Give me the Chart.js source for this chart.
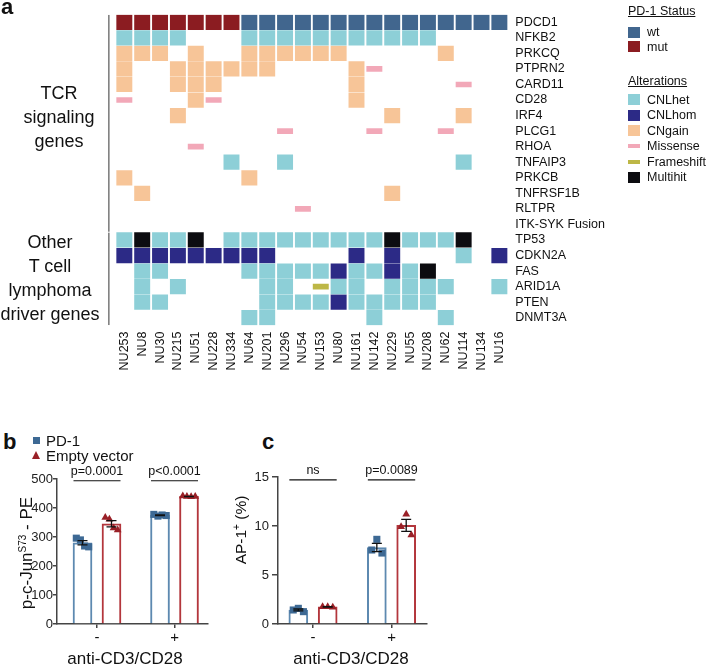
<!DOCTYPE html>
<html>
<head>
<meta charset="utf-8">
<script src="https://cdn.jsdelivr.net/npm/chart.js@4.4.1/dist/chart.umd.min.js"></script>
<style>
  body { margin:0; width:708px; height:665px; overflow:hidden; background:#fff; position:relative;
         font-family:"Liberation Sans", Arial, sans-serif; color:#111; }
  canvas { position:absolute; }
  .abs { position:absolute; white-space:nowrap; }
  .panel { font-weight:bold; font-size:22px; line-height:22px; }
  .grp { font-size:18px; line-height:24px; text-align:center; }
  .leg { font-size:12.5px; line-height:14px; }
  .sw { position:absolute; width:12px; }
  .ytitle { width:160px; height:20px; line-height:20px; font-size:17px; text-align:center; transform:rotate(-90deg); }
  .xtitle { width:160px; line-height:20px; font-size:17px; text-align:center; }
  sup { font-size:10px; vertical-align:6px; line-height:0; }
</style>
</head>
<body>
<canvas id="heat" width="708" height="400" style="left:0;top:0"></canvas>
<canvas id="pjun" width="215" height="205" style="left:0;top:460px"></canvas>
<canvas id="ap1" width="215" height="205" style="left:225px;top:460px"></canvas>

<div class="abs panel" style="left:1px;top:-4px">a</div>
<div class="abs panel" style="left:3px;top:431px">b</div>
<div class="abs panel" style="left:262px;top:431px">c</div>

<div class="abs grp" style="left:0;width:118px;top:81px">TCR<br>signaling<br>genes</div>
<div class="abs grp" style="left:0;width:100px;top:230px">Other<br>T cell<br>lymphoma<br>driver genes</div>

<div id="legend"></div>

<div class="abs ytitle" style="left:-53px;top:543px">p-c-Jun<sup>S73</sup> - PE</div>
<div class="abs ytitle" style="left:161px;top:520px;font-size:15.5px">AP-1<sup>+</sup> (%)</div>
<div class="abs xtitle" style="left:45px;top:649px">anti-CD3/CD28</div>
<div class="abs xtitle" style="left:271px;top:649px">anti-CD3/CD28</div>

<div class="abs" style="left:33px;top:437px;width:7px;height:7px;background:#3d6994"></div>
<div class="abs" style="left:46px;top:432px;font-size:15px;line-height:17px">PD-1</div>
<div class="abs" style="left:32px;top:451px;width:0;height:0;border-left:4.5px solid transparent;border-right:4.5px solid transparent;border-bottom:8px solid #992027"></div>
<div class="abs" style="left:46px;top:447px;font-size:15px;line-height:17px">Empty vector</div>

<script>
Chart.defaults.font.family = '"Liberation Sans", Arial, sans-serif';
Chart.defaults.color = '#111';

// ---- panel a: oncoprint ----
const samples = ['NU253', 'NU8', 'NU30', 'NU215', 'NU51', 'NU228', 'NU334', 'NU64', 'NU201', 'NU296', 'NU54',
  'NU153', 'NU80', 'NU161', 'NU142', 'NU229', 'NU55', 'NU208', 'NU62', 'NU114', 'NU134', 'NU16'];
const genes = ['PDCD1', 'NFKB2', 'PRKCQ', 'PTPRN2', 'CARD11', 'CD28', 'IRF4', 'PLCG1', 'RHOA', 'TNFAIP3',
  'PRKCB', 'TNFRSF1B', 'RLTPR', 'ITK-SYK Fusion', 'TP53', 'CDKN2A', 'FAS', 'ARID1A', 'PTEN', 'DNMT3A'];
// one string per gene, one letter per sample
// u=mut w=wt h=CNLhet H=CNLhom g=CNgain m=Missense f=Frameshift x=Multihit .=none
const calls = [
  'uuuuuuuwwwwwwwwwwwwwww',
  'hhhh...hhhhhhhhhhh....',
  'ggg.g..gggggg.....g...',
  'g..gggggg....gm.......',
  'g..ggg.......g.....m..',
  'm...gm.......g........',
  '...g...........g...g..',
  '.........m....m...m...',
  '....m.................',
  '......h..h.........h..',
  'g......g..............',
  '.g.............g......',
  '..........m...........',
  '......................',
  'hxhhx.hhhhhhhhhxhhhx..',
  'HHHHHHHHH....H.H...h.H',
  '.hh....hhhhhHhhHhx....',
  '.h.h....hh.fhh.hhhh..h',
  '.hh.....hhhhHhhhhh....',
  '.......hh.....h...h...'
];
const geneGroups = [[0, 13], [14, 19]];

const kinds = [
  { code: 'w', name: 'wt', color: '#41668e', half: 0.47, legend: 'status' },
  { code: 'u', name: 'mut', color: '#8b1c21', half: 0.47, legend: 'status' },
  { code: 'h', name: 'CNLhet', color: '#8dcfd7', half: 0.47 },
  { code: 'H', name: 'CNLhom', color: '#2c2a86', half: 0.47 },
  { code: 'g', name: 'CNgain', color: '#f7c598', half: 0.47 },
  { code: 'm', name: 'Missense', color: '#f2a8b8', half: 0.16 },
  { code: 'f', name: 'Frameshift', color: '#bdb746', half: 0.16 },
  { code: 'x', name: 'Multihit', color: '#0c0c10', half: 0.47 }
];

const heatSets = kinds.map(k => ({
  label: k.name,
  data: [],
  backgroundColor: k.color,
  borderWidth: 0,
  barThickness: 15.3,
  grouped: false
}));
calls.forEach((row, r) => {
  row.split('').forEach((c, j) => {
    const i = kinds.findIndex(k => k.code === c);
    if (i >= 0) heatSets[i].data.push({ x: samples[j], y: [r - kinds[i].half, r + kinds[i].half] });
  });
});

// vertical lines next to the gene group names
const groupLines = {
  id: 'groupLines',
  afterDraw(chart) {
    const { ctx, chartArea, scales: { y } } = chart;
    ctx.save();
    ctx.strokeStyle = '#333';
    ctx.lineWidth = 1;
    geneGroups.forEach(g => {
      ctx.beginPath();
      ctx.moveTo(chartArea.left - 6.5, y.getPixelForValue(g[0] - 0.47));
      ctx.lineTo(chartArea.left - 6.5, y.getPixelForValue(g[1] + 0.47));
      ctx.stroke();
    });
    ctx.restore();
  }
};

new Chart(document.getElementById('heat'), {
  type: 'bar',
  data: { labels: samples, datasets: heatSets },
  options: {
    responsive: false,
    animation: false,
    layout: { padding: { left: 115.4, top: 5.5, right: 0, bottom: 0 } },
    plugins: { legend: { display: false }, tooltip: { enabled: false } },
    scales: {
      x: {
        type: 'category',
        offset: true,
        grid: { display: false, drawTicks: false },
        border: { display: false },
        ticks: { autoSkip: false, minRotation: 90, maxRotation: 90, padding: 6, font: { size: 12.5 }, color: '#111' },
        afterFit: s => { s.height = 74.5; }
      },
      y: {
        type: 'linear',
        position: 'right',
        reverse: true,
        min: -0.5,
        max: 19.5,
        afterBuildTicks: s => { s.ticks = genes.map((g, i) => ({ value: i })); },
        ticks: { autoSkip: false, callback: v => genes[v], padding: 7, font: { size: 12.5 }, color: '#111' },
        grid: { display: false, drawTicks: false },
        border: { display: false },
        afterFit: s => { s.width = 199.7; }
      }
    }
  },
  plugins: [groupLines]
});

// legend for panel a
const legendBox = document.getElementById('legend');
function addLegendText(text, top, left, underline) {
  const d = document.createElement('div');
  d.className = 'abs leg';
  d.style.left = left + 'px';
  d.style.top = top + 'px';
  d.textContent = text;
  if (underline) d.style.textDecoration = 'underline';
  legendBox.appendChild(d);
}
addLegendText('PD-1 Status', 4, 628, true);
addLegendText('Alterations', 74, 628, true);
let statusY = 32, altY = 99.5;
kinds.forEach(k => {
  const cy = k.legend === 'status' ? statusY : altY;
  const h = k.half < 0.3 ? 4 : 11;
  const sw = document.createElement('div');
  sw.className = 'sw';
  sw.style.left = '628px';
  sw.style.top = (cy - h / 2) + 'px';
  sw.style.height = h + 'px';
  sw.style.background = k.color;
  legendBox.appendChild(sw);
  addLegendText(k.name, cy - 7, 647);
  if (k.legend === 'status') statusY += 14.5; else altY += 15.5;
});

// ---- panels b and c ----
const groups = ['-', '+'];
const pjunPD1 = [[296, 290, 269, 266], [378, 372, 376, 374]];
const pjunEmpty = [[367, 361, 331, 324], [441, 440, 439, 440]];
const pjunP = ['p=0.0001', 'p<0.0001'];
const ap1PD1 = [[1.6, 1.43, 1.26], [8.64, 7.55, 7.24]];
const ap1Empty = [[1.77, 1.75, 1.7], [11.2, 9.93, 9.08]];
const ap1P = ['ns', 'p=0.0089'];
// spread of replicate dots around the bar centre, x units
const pjunJitter = [-0.08, -0.027, 0.027, 0.08];
const ap1Jitter = [0, -0.065, 0.065];

const shift = 0.187;
const mean = a => a.reduce((s, v) => s + v, 0) / a.length;
const sem = a => {
  const m = mean(a);
  return Math.sqrt(a.reduce((s, v) => s + (v - m) ** 2, 0) / (a.length - 1) / a.length);
};

function barPanel(id, o) {
  const series = [
    { name: 'PD-1', vals: o.pd1, dx: -shift, line: '#5d89b0', dot: '#3d6994', style: 'rect', r: 5 },
    { name: 'Empty vector', vals: o.empty, dx: shift, line: '#b3363c', dot: '#992027', style: 'triangle', r: 4.5 }
  ];
  const datasets = [];
  series.forEach(s => {
    datasets.push({
      type: 'bar', label: s.name,
      data: s.vals.map((v, i) => ({ x: i + s.dx, y: mean(v) })),
      backgroundColor: '#fff', borderColor: s.line, borderWidth: 2,
      barThickness: 19, grouped: false, order: 2
    });
    datasets.push({
      type: 'scatter', label: s.name + ' dots',
      data: s.vals.flatMap((v, i) => v.map((y, k) => ({ x: i + s.dx + o.jitter[k], y }))),
      pointStyle: s.style, pointRadius: s.r, backgroundColor: s.dot, borderWidth: 0, order: 1
    });
  });

  const extras = {
    id: 'extras',
    afterDatasetsDraw(chart) {
      const { ctx, scales: { x, y } } = chart;
      ctx.save();
      ctx.strokeStyle = '#111';
      ctx.lineWidth = 1.3;
      series.forEach(s => s.vals.forEach((v, i) => {
        const px = x.getPixelForValue(i + s.dx);
        const top = y.getPixelForValue(mean(v) + sem(v));
        const bot = y.getPixelForValue(mean(v) - sem(v));
        ctx.beginPath();
        ctx.moveTo(px, top); ctx.lineTo(px, bot);
        ctx.moveTo(px - 5, top); ctx.lineTo(px + 5, top);
        ctx.moveTo(px - 5, bot); ctx.lineTo(px + 5, bot);
        ctx.stroke();
      }));
      ctx.lineWidth = 1.2;
      ctx.fillStyle = '#111';
      ctx.font = '12.5px "Liberation Sans", Arial, sans-serif';
      ctx.textAlign = 'center';
      ctx.textBaseline = 'alphabetic';
      o.pLabels.forEach((t, i) => {
        const yy = y.getPixelForValue(o.bracket);
        const x1 = x.getPixelForValue(i - shift) - 9;
        const x2 = x.getPixelForValue(i + shift) + 9;
        ctx.beginPath();
        ctx.moveTo(x1, yy); ctx.lineTo(x2, yy);
        ctx.stroke();
        ctx.fillText(t, (x1 + x2) / 2, yy - 6);
      });
      ctx.restore();
    }
  };

  const gridFor = len => ({ display: true, drawOnChartArea: false, offset: false, color: '#444', lineWidth: 1.5, tickLength: len });
  new Chart(document.getElementById(id), {
    type: 'bar',
    data: { datasets },
    options: {
      responsive: false,
      animation: false,
      layout: { padding: o.pad },
      plugins: { legend: { display: false }, tooltip: { enabled: false } },
      scales: {
        x: {
          type: 'linear', min: o.xmin, max: o.xmax, offset: false,
          afterBuildTicks: s => { s.ticks = groups.map((g, i) => ({ value: i })); },
          ticks: { callback: v => groups[v], font: { size: 15 }, color: '#111', padding: 1 },
          grid: gridFor(4),
          border: { color: '#444', width: 1.5 },
          afterFit: s => { s.height = 41; }
        },
        y: {
          min: 0, max: o.ymax,
          ticks: { stepSize: o.step, font: { size: 13 }, color: '#222', padding: o.tickPad },
          grid: gridFor(o.tickLen),
          border: { color: '#444', width: 1.5 },
          afterFit: s => { s.width = o.yw; }
        }
      }
    },
    plugins: [extras]
  });
}

barPanel('pjun', {
  pd1: pjunPD1, empty: pjunEmpty, pLabels: pjunP, jitter: pjunJitter,
  bracket: 494, ymax: 500, step: 100, xmin: -0.516, xmax: 1.432,
  yw: 57, tickLen: 4, tickPad: 0, pad: { top: 19, right: 7, left: 0, bottom: 0 }
});
barPanel('ap1', {
  pd1: ap1PD1, empty: ap1Empty, pLabels: ap1P, jitter: ap1Jitter,
  bracket: 14.7, ymax: 15, step: 5, xmin: -0.446, xmax: 1.452,
  yw: 53, tickLen: 6, tickPad: 3, pad: { top: 17, right: 13, left: 0, bottom: 0 }
});
</script>
</body>
</html>
